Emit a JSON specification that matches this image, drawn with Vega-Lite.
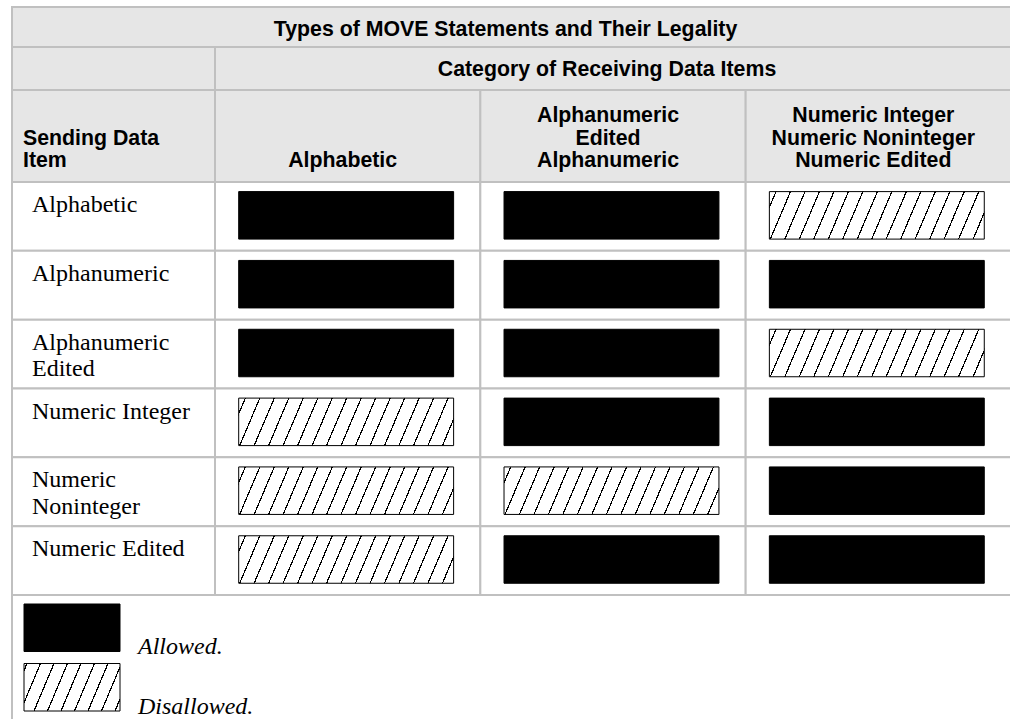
{
  "$schema": "https://vega.github.io/schema/vega-lite/v6.json",
  "width": 1010,
  "height": 719,
  "autosize": {"type": "fit", "contains": "padding"},
  "padding": 0,
  "background": "#ffffff",
  "config": {"view": {"stroke": null}},
  "datasets": {
    "titles": [{"title": "Types of MOVE Statements and Their Legality"}],
    "category": [{"category": "Category of Receiving Data Items"}],
    "sendingHead": [{"head": "Sending Data Item", "text": "Sending Data\nItem"}],
    "columns": [
      {"receiving": "Alphabetic", "header": "Alphabetic"},
      {"receiving": "Alphanumeric Edited, Alphanumeric", "header": "Alphanumeric\nEdited\nAlphanumeric"},
      {"receiving": "Numeric Integer, Numeric Noninteger, Numeric Edited", "header": "Numeric Integer\nNumeric Noninteger\nNumeric Edited"}
    ],
    "rows": [
      {"sending": "Alphabetic", "label": "Alphabetic"},
      {"sending": "Alphanumeric", "label": "Alphanumeric"},
      {"sending": "Alphanumeric Edited", "label": "Alphanumeric\nEdited"},
      {"sending": "Numeric Integer", "label": "Numeric Integer"},
      {"sending": "Numeric Noninteger", "label": "Numeric\nNoninteger"},
      {"sending": "Numeric Edited", "label": "Numeric Edited"}
    ],
    "cells": [
      {"sending": "Alphabetic", "receiving": "Alphabetic", "legality": "Allowed"},
      {"sending": "Alphabetic", "receiving": "Alphanumeric Edited, Alphanumeric", "legality": "Allowed"},
      {"sending": "Alphabetic", "receiving": "Numeric Integer, Numeric Noninteger, Numeric Edited", "legality": "Disallowed"},
      {"sending": "Alphanumeric", "receiving": "Alphabetic", "legality": "Allowed"},
      {"sending": "Alphanumeric", "receiving": "Alphanumeric Edited, Alphanumeric", "legality": "Allowed"},
      {"sending": "Alphanumeric", "receiving": "Numeric Integer, Numeric Noninteger, Numeric Edited", "legality": "Allowed"},
      {"sending": "Alphanumeric Edited", "receiving": "Alphabetic", "legality": "Allowed"},
      {"sending": "Alphanumeric Edited", "receiving": "Alphanumeric Edited, Alphanumeric", "legality": "Allowed"},
      {"sending": "Alphanumeric Edited", "receiving": "Numeric Integer, Numeric Noninteger, Numeric Edited", "legality": "Disallowed"},
      {"sending": "Numeric Integer", "receiving": "Alphabetic", "legality": "Disallowed"},
      {"sending": "Numeric Integer", "receiving": "Alphanumeric Edited, Alphanumeric", "legality": "Allowed"},
      {"sending": "Numeric Integer", "receiving": "Numeric Integer, Numeric Noninteger, Numeric Edited", "legality": "Allowed"},
      {"sending": "Numeric Noninteger", "receiving": "Alphabetic", "legality": "Disallowed"},
      {"sending": "Numeric Noninteger", "receiving": "Alphanumeric Edited, Alphanumeric", "legality": "Disallowed"},
      {"sending": "Numeric Noninteger", "receiving": "Numeric Integer, Numeric Noninteger, Numeric Edited", "legality": "Allowed"},
      {"sending": "Numeric Edited", "receiving": "Alphabetic", "legality": "Disallowed"},
      {"sending": "Numeric Edited", "receiving": "Alphanumeric Edited, Alphanumeric", "legality": "Allowed"},
      {"sending": "Numeric Edited", "receiving": "Numeric Integer, Numeric Noninteger, Numeric Edited", "legality": "Allowed"}
    ],
    "legendArea": [{"area": "Legend"}],
    "legend": [
      {"legality": "Allowed", "label": "Allowed."},
      {"legality": "Disallowed", "label": "Disallowed."}
    ]
  },
  "resolve": {"scale": {"x": "independent", "y": "independent"}},
  "layer": [
    {
      "data": {"name": "titles"},
      "encoding": {
        "x": {"field": "title", "type": "nominal", "axis": null, "scale": {"range": [12, 1011], "paddingInner": 0, "paddingOuter": 0}},
        "y": {"field": "title", "type": "nominal", "axis": null, "scale": {"range": [7, 47], "paddingInner": 0, "paddingOuter": 0}}
      },
      "layer": [
        {"mark": {"type": "rect", "fill": "#e6e6e6", "stroke": "#c0c0c0", "strokeWidth": 2}},
        {"mark": {"type": "text", "font": "Liberation Sans", "fontWeight": "bold", "fontSize": 21.3, "color": "#000000", "baseline": "alphabetic", "dx": -6, "dy": 9},
         "encoding": {"text": {"field": "title"}}}
      ]
    },
    {
      "data": {"name": "category"},
      "encoding": {
        "x": {"datum": "Sending Data Item", "type": "nominal", "axis": null, "scale": {"range": [12, 215], "paddingInner": 0, "paddingOuter": 0}},
        "y": {"field": "category", "type": "nominal", "axis": null, "scale": {"range": [47, 90], "paddingInner": 0, "paddingOuter": 0}}
      },
      "mark": {"type": "rect", "fill": "#e6e6e6", "stroke": "#c0c0c0", "strokeWidth": 2}
    },
    {
      "data": {"name": "category"},
      "encoding": {
        "x": {"field": "category", "type": "nominal", "axis": null, "scale": {"range": [215, 1011], "paddingInner": 0, "paddingOuter": 0}},
        "y": {"field": "category", "type": "nominal", "axis": null, "scale": {"range": [47, 90], "paddingInner": 0, "paddingOuter": 0}}
      },
      "layer": [
        {"mark": {"type": "rect", "fill": "#e6e6e6", "stroke": "#c0c0c0", "strokeWidth": 2}},
        {"mark": {"type": "text", "font": "Liberation Sans", "fontWeight": "bold", "fontSize": 21.3, "color": "#000000", "baseline": "alphabetic", "dx": -6, "dy": 7},
         "encoding": {"text": {"field": "category"}}}
      ]
    },
    {
      "data": {"name": "sendingHead"},
      "encoding": {
        "x": {"field": "head", "type": "nominal", "axis": null, "scale": {"range": [12, 215], "paddingInner": 0, "paddingOuter": 0}},
        "y": {"field": "head", "type": "nominal", "axis": null, "scale": {"range": [90, 182], "paddingInner": 0, "paddingOuter": 0}}
      },
      "layer": [
        {"mark": {"type": "rect", "fill": "#e6e6e6", "stroke": "#c0c0c0", "strokeWidth": 2}},
        {"mark": {"type": "text", "font": "Liberation Sans", "fontWeight": "bold", "fontSize": 21.3, "color": "#000000", "align": "left", "baseline": "alphabetic", "lineBreak": "\n", "lineHeight": 22.5, "dx": 11, "dy": 54.5},
         "encoding": {
           "x": {"field": "head", "type": "nominal", "axis": null, "bandPosition": 0},
           "y": {"field": "head", "type": "nominal", "axis": null, "bandPosition": 0},
           "text": {"field": "text"}
         }}
      ]
    },
    {
      "data": {"name": "columns"},
      "encoding": {
        "x": {"field": "receiving", "type": "nominal", "axis": null, "sort": null, "scale": {"domain": ["Alphabetic", "Alphanumeric Edited, Alphanumeric", "Numeric Integer, Numeric Noninteger, Numeric Edited"], "range": [215, 1011], "paddingInner": 0, "paddingOuter": 0}},
        "y": {"datum": "Receiving", "type": "nominal", "axis": null, "scale": {"range": [90, 182], "paddingInner": 0, "paddingOuter": 0}}
      },
      "layer": [
        {"mark": {"type": "rect", "fill": "#e6e6e6", "stroke": "#c0c0c0", "strokeWidth": 2}},
        {"mark": {"type": "text", "font": "Liberation Sans", "fontWeight": "bold", "fontSize": 21.3, "color": "#000000", "align": "center", "baseline": "alphabetic", "lineBreak": "\n", "lineHeight": 22.5, "dx": -5,
                  "dy": {"expr": "32 + 22.5 * (3 - length(split(datum.header, '\\n')))"}},
         "encoding": {
           "y": {"datum": "Receiving", "type": "nominal", "axis": null, "bandPosition": 0},
           "text": {"field": "header"}
         }}
      ]
    },
    {
      "data": {"name": "rows"},
      "encoding": {
        "x": {"datum": "Sending Data Item", "type": "nominal", "axis": null, "scale": {"range": [12, 215], "paddingInner": 0, "paddingOuter": 0}},
        "y": {"field": "sending", "type": "nominal", "axis": null, "sort": null, "scale": {"domain": ["Alphabetic", "Alphanumeric", "Alphanumeric Edited", "Numeric Integer", "Numeric Noninteger", "Numeric Edited"], "range": [182, 595], "paddingInner": 0, "paddingOuter": 0}}
      },
      "layer": [
        {"mark": {"type": "rect", "fill": "#ffffff", "stroke": "#c0c0c0", "strokeWidth": 2}},
        {"mark": {"type": "text", "font": "Liberation Serif", "fontSize": 24, "color": "#000000", "align": "left", "baseline": "top", "lineBreak": "\n", "lineHeight": 26.7, "dx": 20, "dy": 11},
         "encoding": {
           "x": {"datum": "Sending Data Item", "type": "nominal", "axis": null, "bandPosition": 0},
           "y": {"field": "sending", "type": "nominal", "axis": null, "sort": null, "bandPosition": 0},
           "text": {"field": "label"}
         }}
      ]
    },
    {
      "data": {"name": "cells"},
      "mark": {"type": "rect", "fill": "#ffffff", "stroke": "#c0c0c0", "strokeWidth": 2},
      "encoding": {
        "x": {"field": "receiving", "type": "nominal", "axis": null, "sort": null, "scale": {"domain": ["Alphabetic", "Alphanumeric Edited, Alphanumeric", "Numeric Integer, Numeric Noninteger, Numeric Edited"], "range": [215, 1011], "paddingInner": 0, "paddingOuter": 0}},
        "y": {"field": "sending", "type": "nominal", "axis": null, "sort": null, "scale": {"domain": ["Alphabetic", "Alphanumeric", "Alphanumeric Edited", "Numeric Integer", "Numeric Noninteger", "Numeric Edited"], "range": [182, 595], "paddingInner": 0, "paddingOuter": 0}}
      }
    },
    {
      "data": {"name": "cells"},
      "mark": {"type": "rect", "stroke": "#000000", "strokeWidth": 1},
      "encoding": {
        "x": {"field": "receiving", "type": "nominal", "axis": null, "sort": null, "scale": {"domain": ["Alphabetic", "Alphanumeric Edited, Alphanumeric", "Numeric Integer, Numeric Noninteger, Numeric Edited"], "range": [215, 1011], "paddingInner": 0.19, "paddingOuter": 0.095, "align": 0.47}},
        "y": {"field": "sending", "type": "nominal", "axis": null, "sort": null, "scale": {"domain": ["Alphabetic", "Alphanumeric", "Alphanumeric Edited", "Numeric Integer", "Numeric Noninteger", "Numeric Edited"], "range": [182, 595], "paddingInner": 0.31, "paddingOuter": 0.155, "align": 0.45}},
        "fill": {
          "condition": {"test": "datum.legality === 'Allowed'", "value": "#000000"},
          "value": {"gradient": "linear", "x1": 0, "y1": 0, "x2": 1.0845, "y2": 0.1019, "stops": [
            {"offset": 0, "color": "#ffffff"},
            {"offset": 0.0255, "color": "#ffffff"}, {"offset": 0.0255, "color": "#000000"}, {"offset": 0.031, "color": "#000000"}, {"offset": 0.031, "color": "#ffffff"},
            {"offset": 0.0871, "color": "#ffffff"}, {"offset": 0.0871, "color": "#000000"}, {"offset": 0.0926, "color": "#000000"}, {"offset": 0.0926, "color": "#ffffff"},
            {"offset": 0.1487, "color": "#ffffff"}, {"offset": 0.1487, "color": "#000000"}, {"offset": 0.1542, "color": "#000000"}, {"offset": 0.1542, "color": "#ffffff"},
            {"offset": 0.2103, "color": "#ffffff"}, {"offset": 0.2103, "color": "#000000"}, {"offset": 0.2158, "color": "#000000"}, {"offset": 0.2158, "color": "#ffffff"},
            {"offset": 0.2719, "color": "#ffffff"}, {"offset": 0.2719, "color": "#000000"}, {"offset": 0.2774, "color": "#000000"}, {"offset": 0.2774, "color": "#ffffff"},
            {"offset": 0.3335, "color": "#ffffff"}, {"offset": 0.3335, "color": "#000000"}, {"offset": 0.339, "color": "#000000"}, {"offset": 0.339, "color": "#ffffff"},
            {"offset": 0.3951, "color": "#ffffff"}, {"offset": 0.3951, "color": "#000000"}, {"offset": 0.4006, "color": "#000000"}, {"offset": 0.4006, "color": "#ffffff"},
            {"offset": 0.4567, "color": "#ffffff"}, {"offset": 0.4567, "color": "#000000"}, {"offset": 0.4622, "color": "#000000"}, {"offset": 0.4622, "color": "#ffffff"},
            {"offset": 0.5183, "color": "#ffffff"}, {"offset": 0.5183, "color": "#000000"}, {"offset": 0.5238, "color": "#000000"}, {"offset": 0.5238, "color": "#ffffff"},
            {"offset": 0.5799, "color": "#ffffff"}, {"offset": 0.5799, "color": "#000000"}, {"offset": 0.5854, "color": "#000000"}, {"offset": 0.5854, "color": "#ffffff"},
            {"offset": 0.6415, "color": "#ffffff"}, {"offset": 0.6415, "color": "#000000"}, {"offset": 0.647, "color": "#000000"}, {"offset": 0.647, "color": "#ffffff"},
            {"offset": 0.7031, "color": "#ffffff"}, {"offset": 0.7031, "color": "#000000"}, {"offset": 0.7086, "color": "#000000"}, {"offset": 0.7086, "color": "#ffffff"},
            {"offset": 0.7647, "color": "#ffffff"}, {"offset": 0.7647, "color": "#000000"}, {"offset": 0.7702, "color": "#000000"}, {"offset": 0.7702, "color": "#ffffff"},
            {"offset": 0.8263, "color": "#ffffff"}, {"offset": 0.8263, "color": "#000000"}, {"offset": 0.8318, "color": "#000000"}, {"offset": 0.8318, "color": "#ffffff"},
            {"offset": 0.8879, "color": "#ffffff"}, {"offset": 0.8879, "color": "#000000"}, {"offset": 0.8934, "color": "#000000"}, {"offset": 0.8934, "color": "#ffffff"},
            {"offset": 0.9495, "color": "#ffffff"}, {"offset": 0.9495, "color": "#000000"}, {"offset": 0.955, "color": "#000000"}, {"offset": 0.955, "color": "#ffffff"},
            {"offset": 1, "color": "#ffffff"}
          ]}
        }
      }
    },
    {
      "data": {"name": "legendArea"},
      "mark": {"type": "rect", "fill": "#ffffff", "stroke": "#c0c0c0", "strokeWidth": 2},
      "encoding": {
        "x": {"field": "area", "type": "nominal", "axis": null, "scale": {"range": [12, 1016], "paddingInner": 0, "paddingOuter": 0}},
        "y": {"field": "area", "type": "nominal", "axis": null, "scale": {"range": [595, 726], "paddingInner": 0, "paddingOuter": 0}}
      }
    },
    {
      "data": {"name": "legend"},
      "encoding": {
        "x": {"datum": "Legend", "type": "nominal", "axis": null, "scale": {"range": [24, 120], "paddingInner": 0, "paddingOuter": 0}},
        "y": {"field": "legality", "type": "nominal", "axis": null, "sort": null, "scale": {"domain": ["Allowed", "Disallowed"], "range": [604, 711], "paddingInner": 0.2017, "paddingOuter": 0}}
      },
      "layer": [
        {"mark": {"type": "rect", "stroke": "#000000", "strokeWidth": 1},
         "encoding": {
           "fill": {
             "condition": {"test": "datum.legality === 'Allowed'", "value": "#000000"},
             "value": {"gradient": "linear", "x1": 0, "y1": 0, "x2": 1.158, "y2": 0.2413, "stops": [
               {"offset": 0, "color": "#ffffff"},
               {"offset": 0.02, "color": "#ffffff"}, {"offset": 0.02, "color": "#000000"}, {"offset": 0.0312, "color": "#000000"}, {"offset": 0.0312, "color": "#ffffff"},
               {"offset": 0.1364, "color": "#ffffff"}, {"offset": 0.1364, "color": "#000000"}, {"offset": 0.1476, "color": "#000000"}, {"offset": 0.1476, "color": "#ffffff"},
               {"offset": 0.2528, "color": "#ffffff"}, {"offset": 0.2528, "color": "#000000"}, {"offset": 0.264, "color": "#000000"}, {"offset": 0.264, "color": "#ffffff"},
               {"offset": 0.3692, "color": "#ffffff"}, {"offset": 0.3692, "color": "#000000"}, {"offset": 0.3804, "color": "#000000"}, {"offset": 0.3804, "color": "#ffffff"},
               {"offset": 0.4856, "color": "#ffffff"}, {"offset": 0.4856, "color": "#000000"}, {"offset": 0.4968, "color": "#000000"}, {"offset": 0.4968, "color": "#ffffff"},
               {"offset": 0.602, "color": "#ffffff"}, {"offset": 0.602, "color": "#000000"}, {"offset": 0.6132, "color": "#000000"}, {"offset": 0.6132, "color": "#ffffff"},
               {"offset": 0.7184, "color": "#ffffff"}, {"offset": 0.7184, "color": "#000000"}, {"offset": 0.7296, "color": "#000000"}, {"offset": 0.7296, "color": "#ffffff"},
               {"offset": 0.8348, "color": "#ffffff"}, {"offset": 0.8348, "color": "#000000"}, {"offset": 0.846, "color": "#000000"}, {"offset": 0.846, "color": "#ffffff"},
               {"offset": 0.9512, "color": "#ffffff"}, {"offset": 0.9512, "color": "#000000"}, {"offset": 0.9624, "color": "#000000"}, {"offset": 0.9624, "color": "#ffffff"},
               {"offset": 1, "color": "#ffffff"}
             ]}
           }
         }},
        {"mark": {"type": "text", "font": "Liberation Serif", "fontStyle": "italic", "fontSize": 24, "color": "#000000", "align": "left", "baseline": "alphabetic", "dx": 18, "dy": 2.5},
         "encoding": {
           "x": {"datum": "Legend", "type": "nominal", "axis": null, "bandPosition": 1},
           "y": {"field": "legality", "type": "nominal", "axis": null, "sort": null, "bandPosition": 1},
           "text": {"field": "label"}
         }}
      ]
    }
  ]
}
